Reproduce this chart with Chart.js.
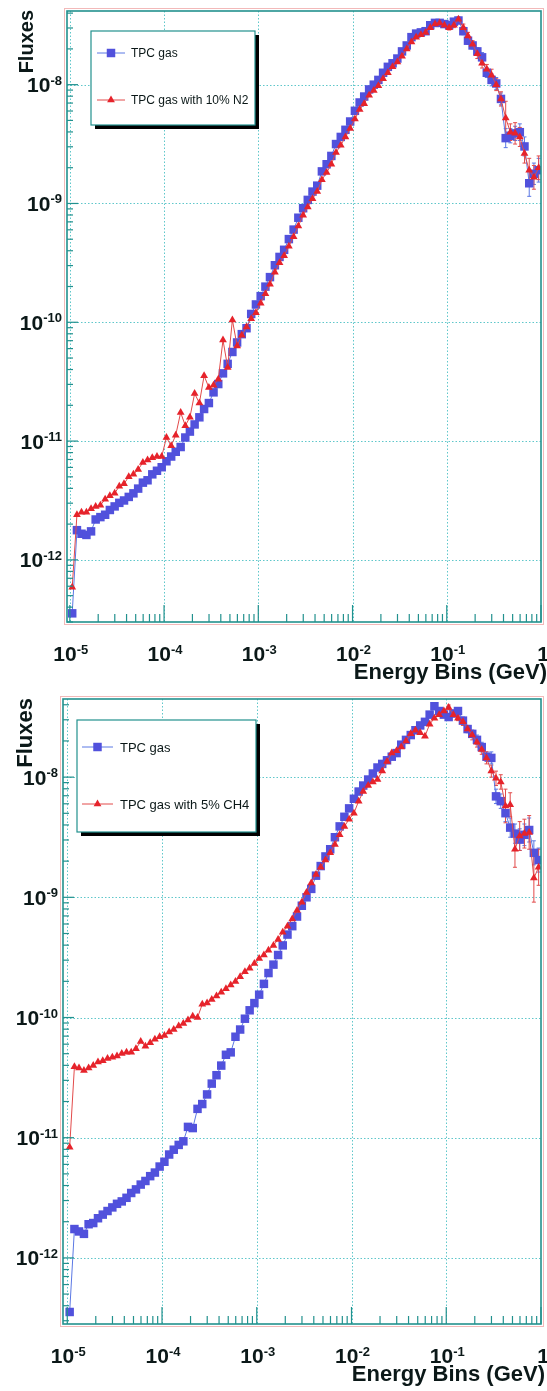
<!DOCTYPE html>
<html>
<head>
<meta charset="utf-8">
<script src="https://cdn.jsdelivr.net/npm/chart.js@4.4.1/dist/chart.umd.min.js"></script>
<style>
  html, body { margin: 0; padding: 0; background: #fff; }
  .panel { position: relative; width: 547px; }
  canvas { display: block; }
</style>
</head>
<body>
<div class="panel" style="height:690px"><canvas id="n2Chart" width="547" height="690"></canvas></div>
<div class="panel" style="height:701px"><canvas id="ch4Chart" width="547" height="701"></canvas></div>
<script>
// energy bin centres (GeV), 20 bins per decade
const energyBins = [
  1.06e-5, 1.19e-5, 1.33e-5, 1.50e-5, 1.68e-5, 1.88e-5, 2.11e-5, 2.37e-5, 2.66e-5, 2.99e-5,
  3.35e-5, 3.76e-5, 4.22e-5, 4.73e-5, 5.31e-5, 5.96e-5, 6.68e-5, 7.50e-5, 8.41e-5, 9.44e-5,
  1.06e-4, 1.19e-4, 1.33e-4, 1.50e-4, 1.68e-4, 1.88e-4, 2.11e-4, 2.37e-4, 2.66e-4, 2.99e-4,
  3.35e-4, 3.76e-4, 4.22e-4, 4.73e-4, 5.31e-4, 5.96e-4, 6.68e-4, 7.50e-4, 8.41e-4, 9.44e-4,
  1.06e-3, 1.19e-3, 1.33e-3, 1.50e-3, 1.68e-3, 1.88e-3, 2.11e-3, 2.37e-3, 2.66e-3, 2.99e-3,
  3.35e-3, 3.76e-3, 4.22e-3, 4.73e-3, 5.31e-3, 5.96e-3, 6.68e-3, 7.50e-3, 8.41e-3, 9.44e-3,
  1.06e-2, 1.19e-2, 1.33e-2, 1.50e-2, 1.68e-2, 1.88e-2, 2.11e-2, 2.37e-2, 2.66e-2, 2.99e-2,
  3.35e-2, 3.76e-2, 4.22e-2, 4.73e-2, 5.31e-2, 5.96e-2, 6.68e-2, 7.50e-2, 8.41e-2, 9.44e-2,
  1.06e-1, 1.19e-1, 1.33e-1, 1.50e-1, 1.68e-1, 1.88e-1, 2.11e-1, 2.37e-1, 2.66e-1, 2.99e-1,
  3.35e-1, 3.76e-1, 4.22e-1, 4.73e-1, 5.31e-1, 5.96e-1, 6.68e-1, 7.50e-1, 8.41e-1, 9.44e-1
];

// fluxes, stored as log10 values
const topGasLog = [
  -12.45, -11.75, -11.78, -11.79, -11.76, -11.66, -11.64, -11.62, -11.58, -11.55,
  -11.52, -11.50, -11.47, -11.44, -11.40, -11.35, -11.33, -11.28, -11.25, -11.22,
  -11.17, -11.13, -11.09, -11.05, -10.97, -10.92, -10.86, -10.80, -10.73, -10.68,
  -10.59, -10.52, -10.43, -10.35, -10.25, -10.17, -10.10, -10.05, -9.93, -9.85,
  -9.78, -9.70, -9.62, -9.52, -9.45, -9.39, -9.30, -9.22, -9.12, -9.04,
  -8.97, -8.90, -8.85, -8.73, -8.67, -8.60, -8.50, -8.44, -8.38, -8.31,
  -8.22, -8.15, -8.10, -8.04, -8.00, -7.96, -7.90, -7.85, -7.82, -7.78,
  -7.72, -7.67, -7.60, -7.57, -7.56, -7.55, -7.50, -7.48, -7.48, -7.49,
  -7.50, -7.47, -7.46, -7.55, -7.63, -7.67, -7.72, -7.77, -7.90, -7.96,
  -7.99, -8.12, -8.45, -8.43, -8.41, -8.40, -8.52, -8.83, -8.75, -8.72
];
const topN2Log = [
  -12.23, -11.62, -11.60, -11.60, -11.57, -11.55, -11.54, -11.49, -11.46, -11.44,
  -11.38, -11.36, -11.30, -11.28, -11.24, -11.18, -11.16, -11.14, -11.13, -11.13,
  -10.97, -11.04, -10.95, -10.76, -10.87, -10.80, -10.60, -10.68, -10.45, -10.55,
  -10.53, -10.48, -10.15, -10.38, -9.98, -10.20, -10.11, -10.04, -9.97, -9.92,
  -9.84, -9.76, -9.68, -9.58, -9.50, -9.44, -9.36, -9.28, -9.19, -9.10,
  -9.03, -8.96, -8.90, -8.80, -8.74, -8.67, -8.57, -8.51, -8.44, -8.37,
  -8.29, -8.21, -8.16, -8.09, -8.05, -8.01, -7.95, -7.90, -7.85, -7.81,
  -7.76, -7.70, -7.64, -7.60, -7.58, -7.56, -7.52, -7.49, -7.48, -7.50,
  -7.52, -7.50, -7.45, -7.52, -7.59, -7.66, -7.74, -7.82, -7.87, -7.92,
  -8.00, -8.12, -8.28, -8.40, -8.41, -8.44, -8.58, -8.72, -8.78, -8.70
];
const bottomGasLog = [
  -12.45, -11.76, -11.78, -11.80, -11.72, -11.71, -11.67, -11.64, -11.61, -11.58,
  -11.55, -11.53, -11.50, -11.46, -11.43, -11.39, -11.36, -11.32, -11.29, -11.24,
  -11.20, -11.14, -11.10, -11.06, -11.03, -10.91, -10.92, -10.76, -10.72, -10.64,
  -10.55, -10.48, -10.40, -10.31, -10.29, -10.16, -10.10, -10.01, -9.94, -9.88,
  -9.81, -9.72, -9.63, -9.56, -9.48, -9.40, -9.31, -9.24, -9.16, -9.07,
  -9.00, -8.93, -8.82, -8.74, -8.66, -8.60, -8.50, -8.41, -8.33, -8.26,
  -8.18, -8.12, -8.07, -8.02, -7.97, -7.92, -7.89, -7.86, -7.83, -7.80,
  -7.73, -7.69, -7.65, -7.61, -7.57, -7.54, -7.48, -7.41, -7.45, -7.48,
  -7.50, -7.47, -7.45, -7.53, -7.60, -7.64, -7.69, -7.75, -7.83, -7.84,
  -8.16, -8.20, -8.30, -8.42, -8.47, -8.52, -8.48, -8.44, -8.63, -8.69
];
const bottomCh4Log = [
  -11.08, -10.41, -10.42, -10.44, -10.42, -10.40, -10.37, -10.36, -10.34, -10.33,
  -10.32, -10.30, -10.29, -10.29, -10.26, -10.20, -10.24, -10.21, -10.18, -10.16,
  -10.15, -10.12, -10.10, -10.07, -10.05, -10.02, -9.99, -10.00, -9.89, -9.88,
  -9.85, -9.82, -9.79, -9.76, -9.73, -9.70, -9.66, -9.62, -9.59, -9.55,
  -9.51, -9.48, -9.44, -9.40, -9.35, -9.29, -9.24, -9.18, -9.11, -9.04,
  -8.96, -8.88, -8.81, -8.75, -8.69, -8.63, -8.56, -8.48, -8.41, -8.35,
  -8.30, -8.20, -8.12, -8.07, -8.04, -8.02, -7.95, -7.87, -7.80, -7.78,
  -7.75, -7.70, -7.64, -7.61, -7.63, -7.66, -7.56, -7.51, -7.48, -7.45,
  -7.42, -7.48, -7.51, -7.54, -7.60, -7.65, -7.71, -7.77, -7.84, -7.95,
  -8.01, -8.04, -8.24, -8.23, -8.60, -8.49, -8.47, -8.46, -8.84, -8.75
];

// error bars (half width in decades) for the last 20 bins
const errFrom = 80;
const topGasErr = [0.02, 0.02, 0.02, 0.03, 0.03, 0.03, 0.03, 0.04, 0.04, 0.05, 0.05, 0.05, 0.08, 0.06, 0.06, 0.07, 0.08, 0.11, 0.09, 0.10];
const topN2Err = [0.02, 0.02, 0.02, 0.03, 0.03, 0.03, 0.04, 0.04, 0.04, 0.05, 0.05, 0.06, 0.14, 0.07, 0.09, 0.08, 0.08, 0.10, 0.10, 0.10];
const bottomGasErr = [0.02, 0.02, 0.02, 0.03, 0.03, 0.03, 0.04, 0.04, 0.04, 0.05, 0.06, 0.06, 0.07, 0.08, 0.08, 0.09, 0.09, 0.10, 0.10, 0.10];
const bottomCh4Err = [0.02, 0.02, 0.02, 0.03, 0.03, 0.04, 0.04, 0.04, 0.05, 0.05, 0.06, 0.06, 0.14, 0.10, 0.15, 0.12, 0.12, 0.14, 0.20, 0.15];

const xDecades = [-5, -4, -3, -2, -1, 0];
const yDecades = [-13, -12, -11, -10, -9, -8, -7];
const minorSteps = [2, 3, 4, 5, 6, 7, 8, 9];

const FRAME = '#22918e';
const GRID = '#5fc7ca';
const INK = '#0b1818';
const BLUE = '#5151dc';
const RED = '#e6232b';
const FONT = '"Liberation Sans", Arial, Helvetica, sans-serif';

const drawPower = (ctx, exp, x, baseline, align) => {
    const base = exp === 0 ? '1' : '10';
    const sup = exp === 0 ? '' : String(exp);
    ctx.font = 'bold 21px ' + FONT;
    const wb = ctx.measureText(base).width;
    ctx.font = 'bold 13px ' + FONT;
    const we = sup ? ctx.measureText(sup).width : 0;
    const w = wb + we;
    let left = x;
    if (align === 'right') left = x - w;
    if (align === 'center') left = x - w / 2;
    ctx.textAlign = 'left';
    ctx.textBaseline = 'alphabetic';
    ctx.font = 'bold 21px ' + FONT;
    ctx.fillText(base, left, baseline);
    if (sup) {
        ctx.font = 'bold 13px ' + FONT;
        ctx.fillText(sup, left + wb, baseline - 7.5);
    }
};

const seg = (ctx, x1, y1, x2, y2) => {
    ctx.beginPath();
    ctx.moveTo(x1, y1);
    ctx.lineTo(x2, y2);
    ctx.stroke();
};

const rootStyle = {
    id: 'rootStyle',
    beforeDatasetsDraw(chart) {
        const { ctx, chartArea: a, scales: { x, y } } = chart;
        ctx.save();
        ctx.strokeStyle = GRID;
        ctx.lineWidth = 1;
        ctx.setLineDash([1.5, 2]);
        xDecades.forEach(d => {
            const px = Math.round(x.getPixelForValue(10 ** d)) + 0.5;
            if (px > a.left + 3 && px < a.right - 3) seg(ctx, px, a.top, px, a.bottom);
        });
        yDecades.forEach(d => {
            const py = Math.round(y.getPixelForValue(10 ** d)) + 0.5;
            if (py > a.top + 3 && py < a.bottom - 3) seg(ctx, a.left, py, a.right, py);
        });
        ctx.setLineDash([]);

        // error bars
        chart.data.datasets.forEach((ds, di) => {
            const meta = chart.getDatasetMeta(di);
            ctx.strokeStyle = ds.borderColor;
            ctx.lineWidth = 1;
            ds.errors.forEach((e, k) => {
                const i = errFrom + k;
                const pt = meta.data[i];
                if (!pt) return;
                const v = ds.logValues[i];
                const yHi = y.getPixelForValue(10 ** (v + e));
                const yLo = y.getPixelForValue(10 ** (v - e));
                seg(ctx, pt.x, yHi, pt.x, yLo);
                seg(ctx, pt.x - 2, yHi, pt.x + 2, yHi);
                seg(ctx, pt.x - 2, yLo, pt.x + 2, yLo);
            });
        });
        ctx.restore();
    },
    afterDatasetsDraw(chart, args, opts) {
        const { ctx, chartArea: a, scales: { x, y } } = chart;
        ctx.save();

        // frame
        ctx.strokeStyle = '#f2b9b9';
        ctx.lineWidth = 1;
        ctx.strokeRect(a.left - 2.5, a.top - 2.5, a.right - a.left + 5, a.bottom - a.top + 5);
        ctx.strokeStyle = FRAME;
        ctx.lineWidth = 1.6;
        ctx.strokeRect(a.left, a.top, a.right - a.left, a.bottom - a.top);

        // y ticks on the left, pointing inwards
        ctx.lineWidth = 1.2;
        yDecades.forEach(d => {
            const major = 10 ** d;
            if (major >= y.min && major <= y.max) {
                const py = y.getPixelForValue(major);
                seg(ctx, a.left, py, a.left + 11, py);
            }
            minorSteps.forEach(m => {
                const v = m * major;
                if (v < y.min || v > y.max) return;
                const py = y.getPixelForValue(v);
                seg(ctx, a.left, py, a.left + 6, py);
            });
        });

        // x ticks at the bottom
        xDecades.forEach(d => {
            const major = 10 ** d;
            if (major >= x.min && major <= x.max) {
                const px = x.getPixelForValue(major);
                seg(ctx, px, a.bottom, px, a.bottom - 17);
            }
            minorSteps.forEach(m => {
                const v = m * major;
                if (v < x.min || v > x.max) return;
                const px = x.getPixelForValue(v);
                seg(ctx, px, a.bottom, px, a.bottom - 8);
            });
        });

        // tick labels
        ctx.fillStyle = INK;
        yDecades.forEach(d => {
            const v = 10 ** d;
            if (v < y.min || v > y.max) return;
            const py = y.getPixelForValue(v);
            drawPower(ctx, d, a.left - 5, py + 7.5, 'right');
        });
        xDecades.forEach(d => {
            const v = 10 ** d;
            if (v < x.min * 0.98 || v > x.max * 1.02) return;
            const px = x.getPixelForValue(v);
            drawPower(ctx, d, px + (d === 0 ? 2 : 1), a.bottom + 39, 'center');
        });

        // axis titles
        ctx.font = 'bold 22px ' + FONT;
        ctx.textAlign = 'right';
        ctx.textBaseline = 'alphabetic';
        ctx.fillText('Energy Bins (GeV)', opts.xTitleRight, a.bottom + 57);
        ctx.save();
        ctx.translate(opts.yTitleX, opts.yTitleTop);
        ctx.rotate(-Math.PI / 2);
        ctx.font = 'bold ' + opts.yTitleSize + 'px ' + FONT;
        ctx.textAlign = 'right';
        ctx.fillText('Fluxes', 0, 0);
        ctx.restore();

        // legend box with shadow
        const [bx1, by1, bx2, by2] = opts.box;
        ctx.fillStyle = '#000';
        ctx.fillRect(bx1 + 4, by1 + 4, bx2 - bx1, by2 - by1);
        ctx.fillStyle = '#fff';
        ctx.fillRect(bx1, by1, bx2 - bx1, by2 - by1);
        ctx.strokeStyle = FRAME;
        ctx.lineWidth = 1.2;
        ctx.strokeRect(bx1, by1, bx2 - bx1, by2 - by1);

        const order = [0, 1];
        order.forEach(k => {
            const ds = chart.data.datasets.find(d => d.legendRow === k);
            const ry = opts.rows[k];
            ctx.strokeStyle = ds.borderColor;
            ctx.lineWidth = 1;
            seg(ctx, opts.lineX[0], ry, opts.lineX[1], ry);
            ctx.fillStyle = ds.pointBackgroundColor;
            ctx.strokeStyle = ds.pointBorderColor;
            Chart.helpers.drawPoint(ctx, {
                pointStyle: ds.pointStyle, radius: ds.pointRadius, rotation: 0, borderWidth: 0
            }, (opts.lineX[0] + opts.lineX[1]) / 2, ry);
            ctx.fillStyle = INK;
            ctx.font = opts.legendSize + 'px ' + FONT;
            ctx.textAlign = 'left';
            ctx.textBaseline = 'middle';
            ctx.fillText(ds.label, opts.textX, ry + 1);
        });
        ctx.restore();
    }
};

const makeSeries = (label, logs, errs, color, lineColor, style, radius, row, order) => ({
    label: label,
    data: energyBins.map((e, i) => ({ x: e, y: 10 ** logs[i] })),
    logValues: logs,
    errors: errs,
    legendRow: row,
    order: order,
    borderColor: lineColor,
    borderWidth: 1,
    pointStyle: style,
    pointRadius: radius,
    pointBorderWidth: 0,
    pointBackgroundColor: color,
    pointBorderColor: color,
    tension: 0,
    fill: false
});

const makeChart = (id, datasets, area, xr, yr, deco) => {
    return new Chart(document.getElementById(id), {
        type: 'line',
        data: { datasets: datasets },
        plugins: [rootStyle],
        options: {
            responsive: false,
            animation: false,
            layout: { padding: area },
            scales: {
                x: { type: 'logarithmic', min: xr[0], max: xr[1], display: false },
                y: { type: 'logarithmic', min: yr[0], max: yr[1], display: false }
            },
            plugins: {
                legend: { display: false },
                tooltip: { enabled: false },
                rootStyle: deco
            }
        }
    });
};

makeChart('n2Chart', [
    makeSeries('TPC gas', topGasLog, topGasErr, BLUE, '#5b78e4', 'rect', 6, 0, 2),
    makeSeries('TPC gas with 10% N2', topN2Log, topN2Err, RED, '#e24a4a', 'triangle', 4.5, 1, 1)
], { left: 67, right: 5, top: 11, bottom: 68 },
   [10 ** -5.03, 1], [10 ** -12.52, 10 ** -7.38],
   { box: [91, 31, 255, 125], rows: [53, 100], lineX: [97, 125], textX: 131, legendSize: 12,
     xTitleRight: 547, yTitleX: 33, yTitleTop: 10, yTitleSize: 20 });

makeChart('ch4Chart', [
    makeSeries('TPC gas', bottomGasLog, bottomGasErr, BLUE, '#5b78e4', 'rect', 6, 0, 2),
    makeSeries('TPC gas with 5% CH4', bottomCh4Log, bottomCh4Err, RED, '#e24a4a', 'triangle', 4.5, 1, 1)
], { left: 63, right: 2, top: 9, bottom: 67 },
   [10 ** -5.045, 1], [10 ** -12.55, 10 ** -7.35],
   { box: [77, 30, 256, 142], rows: [57, 114], lineX: [82, 113], textX: 120, legendSize: 13,
     xTitleRight: 545, yTitleX: 32, yTitleTop: 8, yTitleSize: 22 });
</script>
</body>
</html>
